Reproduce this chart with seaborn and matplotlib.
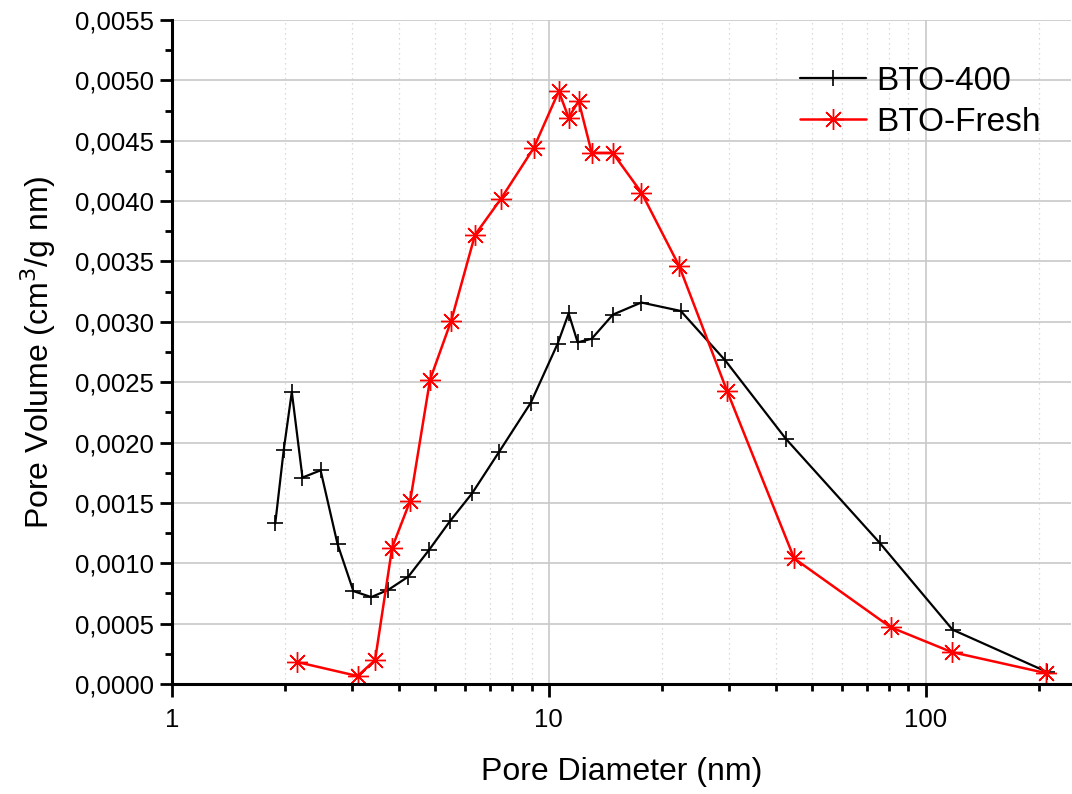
import numpy as np
import pandas as pd
import seaborn as sns
import matplotlib
matplotlib.use("Agg")
import matplotlib.pyplot as plt
from matplotlib.ticker import LogLocator, FixedLocator, FuncFormatter, MultipleLocator

# BTO-400 (black, +)
d_400 = [1.88, 1.98, 2.08, 2.22, 2.48, 2.75, 3.03, 3.38, 3.75, 4.24, 4.81, 5.47,
         6.26, 7.37, 8.96, 10.56, 11.29, 11.93, 13.0, 14.8, 17.6, 22.4, 29.4,
         42.6, 75.5, 117.9, 210.0]
v_400 = [0.00133, 0.00194, 0.00242, 0.00171, 0.00177, 0.00116, 0.00077, 0.00072,
         0.00078, 0.00089, 0.00111, 0.00135, 0.00158, 0.00192, 0.00233, 0.00282,
         0.00307, 0.00283, 0.00286, 0.00306, 0.00316, 0.00309, 0.00268, 0.00203,
         0.00117, 0.00045, 0.00010]

# BTO-Fresh (red, asterisk)
d_fresh = [2.15, 3.11, 3.46, 3.84, 4.29, 4.84, 5.51, 6.37, 7.47, 9.12, 10.63,
           11.29, 12.0, 13.0, 14.77, 17.62, 22.2, 29.7, 44.8, 80.8, 117.2, 209.0]
v_fresh = [0.000182, 0.000066, 0.000199, 0.00113, 0.00152, 0.00252, 0.00301,
           0.00372, 0.00402, 0.00444, 0.00491, 0.00469, 0.00483, 0.00440,
           0.00440, 0.00407, 0.00346, 0.00243, 0.00104, 0.00047, 0.000265, 0.00009]

sns.set_style("white")
plt.rcParams['font.family'] = ['Liberation Sans', 'DejaVu Sans']
plt.rcParams['text.color'] = 'black'
plt.rcParams['axes.labelcolor'] = 'black'
plt.rcParams['xtick.color'] = 'black'
plt.rcParams['ytick.color'] = 'black'

df400 = pd.DataFrame({"d": d_400, "v": v_400})
dfF = pd.DataFrame({"d": d_fresh, "v": v_fresh})

fig = plt.figure(figsize=(10.72, 7.94), dpi=100)
ax = fig.add_axes([0.1604, 0.1385, 0.8386, 0.8363])

sns.lineplot(data=df400, x="d", y="v", sort=False, color="black", lw=1.6,
             marker="+", markersize=12, markeredgewidth=1.2, markeredgecolor="black",
             label="BTO-400", ax=ax)
sns.lineplot(data=dfF, x="d", y="v", sort=False, color="#ff0000", lw=1.8,
             marker=(8, 2, 0), markersize=15, markeredgewidth=1.0, markeredgecolor="#ff0000",
             label="BTO-Fresh", ax=ax)

ax.set_xscale("log")
ax.set_xlim(1, 243)
ax.set_ylim(0, 0.0055)

ax.xaxis.set_major_locator(FixedLocator([1, 10, 100]))
ax.xaxis.set_major_formatter(FuncFormatter(lambda v, p: f"{v:g}"))
ax.xaxis.set_minor_locator(LogLocator(base=10, subs=np.arange(2, 10)))
ax.xaxis.set_minor_formatter(FuncFormatter(lambda v, p: ""))
ax.yaxis.set_major_locator(MultipleLocator(0.0005))
ax.yaxis.set_minor_locator(MultipleLocator(0.00025))
ax.yaxis.set_major_formatter(FuncFormatter(lambda v, p: f"{v:.4f}".replace(".", ",")))

ax.grid(True, which="major", color="#c8c8c8", lw=1.2)
ax.grid(True, which="minor", axis="x", color="#d0d0d0", lw=0.9, ls=(0, (1, 3)))
ax.set_axisbelow(True)

for s in ["top", "right"]:
    ax.spines[s].set_visible(False)
for s in ["left", "bottom"]:
    ax.spines[s].set_linewidth(2.2)
    ax.spines[s].set_color("black")

ax.tick_params(which="both", bottom=True, left=True, direction="out")
ax.tick_params(which="major", length=9, width=2, labelsize=18.5, pad=4)
ax.tick_params(which="minor", length=5, width=2)
ax.tick_params(axis="x", which="major", pad=8)

ax.set_xlabel("Pore Diameter (nm)", fontsize=23, labelpad=18)
ax.set_ylabel("Pore Volume (cm$^3$/g nm)", fontsize=23, labelpad=12)

leg = ax.legend(loc="upper right", bbox_to_anchor=(1.0, 0.976), frameon=False,
                fontsize=24, handlelength=2.0, labelspacing=0.3, handletextpad=0.3)

fig.savefig("out.png", dpi=100)
